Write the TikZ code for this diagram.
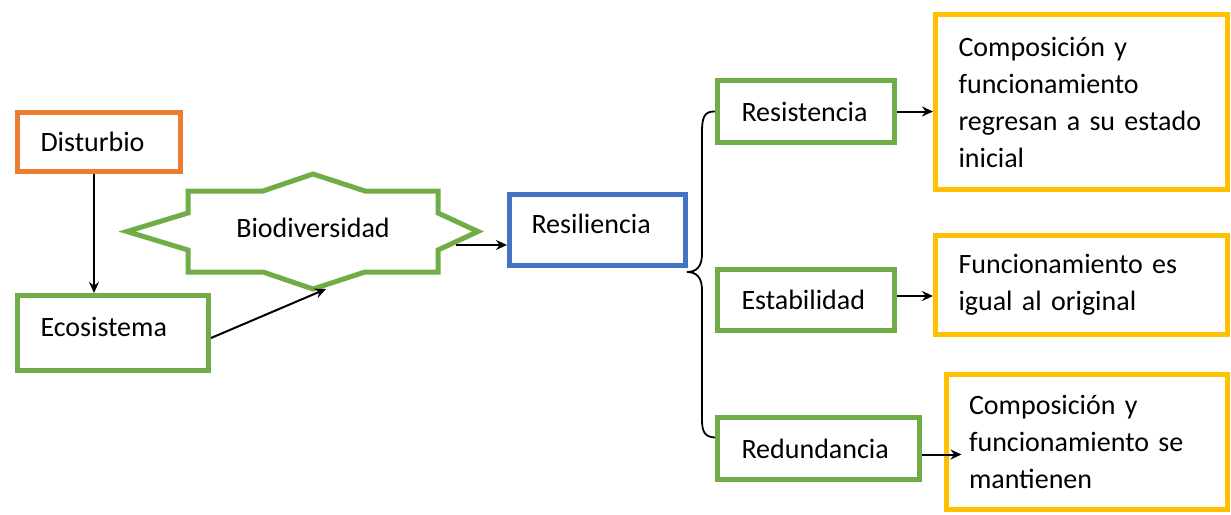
\documentclass[tikz,border=0pt]{standalone}
\usepackage{fontspec}
\setmainfont{Carlito}
\usetikzlibrary{arrows.meta,positioning}
\definecolor{orangec}{HTML}{ED7D31}
\definecolor{greenc}{HTML}{70AD47}
\definecolor{bluec}{HTML}{4472C4}
\definecolor{yellowc}{HTML}{FFC000}
\tikzstyle{arrow} = [
    line width=2pt,
    -{Stealth[length=11pt,width=10pt]},
    draw=black
]
\begin{document}
\begin{tikzpicture}[
    x=1pt, y=-1pt,
    every node/.style={
        font=\fontsize{28}{37}\selectfont,
        inner sep=0pt
    },
    box/.style={
        draw,
        line width=5pt,
        align=left,
        inner xsep=23pt
    },
    raised/.style={text height=20pt, text depth=14pt},
    orangebox/.style={box, draw=orangec},
    greenbox/.style={box, draw=greenc},
    bluebox/.style={box, draw=bluec},
    yellowbox/.style={box, draw=yellowc}
]
\useasboundingbox (0,0) rectangle (1231,514);

% Nodes
\node[orangebox, text width=117pt, minimum height=59pt] (dist) at (99,142) {Disturbio};
\node[greenbox, raised, text width=145pt, minimum height=75pt] (eco) at (113,333) {Ecosistema};
\node (bio) at (313,228) {Biodiversidad};
\node[bluebox, raised, inner xsep=22pt, text width=132pt, minimum height=71pt] (resil) at (597.5,230) {Resiliencia};
\node[greenbox, inner xsep=24pt, text width=129pt, minimum height=62pt] (resist) at (806,111.5) {Resistencia};
\node[greenbox, inner xsep=24pt, text width=129pt, minimum height=61pt] (estab) at (806,300) {Estabilidad};
\node[greenbox, inner xsep=24pt, text width=154pt, minimum height=62pt] (redund) at (818.5,448.5) {Redundancia};
\node[yellowbox, text width=246pt, minimum height=175pt] (comp1) at (1081.5,102) {Composición y\\funcionamiento\\regresan a su estado\\inicial};
\node[yellowbox, text width=246pt, minimum height=99pt] (func) at (1081.5,285) {Funcionamiento es\\igual al original};
\node[yellowbox, text width=235pt, minimum height=135pt] (comp2) at (1086.5,442) {Composición y\\funcionamiento se\\mantienen};

% Star around Biodiversidad
\draw[greenc, line width=5pt, line join=miter]
    (127,231.5) -- (188,213) -- (188,191) -- (263,191) -- (313,174) -- (365,191)
    -- (438,191) -- (438,213) -- (478,231.5) -- (438,250) -- (438,272) -- (365,272)
    -- (313,289) -- (263,272) -- (188,272) -- (188,250) -- cycle;
\coordinate (bioin) at (456,245);
\coordinate (bioout) at (326,289);
\coordinate (brtip) at (687,272);
\coordinate (distout) at ([xshift=-5pt]dist.south);
\coordinate (ecoout) at ([yshift=-5pt]eco.east);
\coordinate (estabout) at ([yshift=4pt]estab.east);
\coordinate (redout) at ([yshift=-6pt]redund.east);
\coordinate (brend) at ([yshift=11pt]redund.west);

% Arrows
\draw[arrow] (distout) -- (distout |- eco.north);
\draw[arrow] (ecoout) -- (bioout);
\draw[arrow] (bioin) -- (resil.west |- bioin);
\draw[arrow] (resist.east) -- (comp1.west |- resist.east);
\draw[arrow] (estabout) -- (func.west |- estabout);
\draw[arrow] (redout) -- ([xshift=18pt]comp2.west |- redout);

% Brace
\draw[line width=1.8pt] (resist.west) .. controls (704,111) and (702,118) .. (702,132)
    -- (702,254) .. controls (702,266) and (697,272) .. (brtip)
    .. controls (697,272) and (702,278) .. (702,290)
    -- (702,420) .. controls (702,432) and (705,437) .. (brend);
\end{tikzpicture}
\end{document}
